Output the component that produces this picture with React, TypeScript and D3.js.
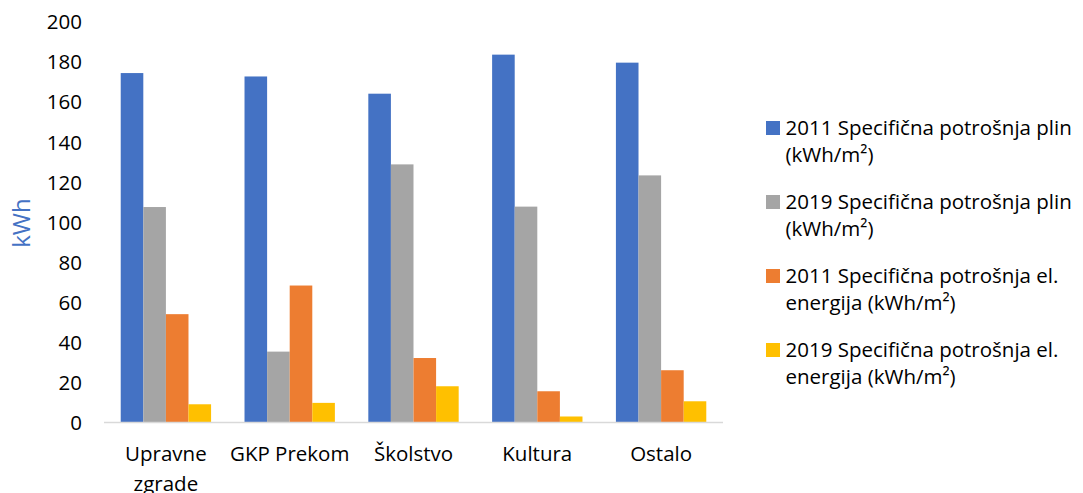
import React, { useEffect, useRef } from "react";
import * as d3 from "d3";

const categories = [["Upravne", "zgrade"], ["GKP Prekom"], ["Školstvo"], ["Kultura"], ["Ostalo"]];
const seriesNames = [
  ["2011 Specifična potrošnja plin", "(kWh/m²)"],
  ["2019 Specifična potrošnja plin", "(kWh/m²)"],
  ["2011 Specifična potrošnja el.", "energija (kWh/m²)"],
  ["2019 Specifična potrošnja el.", "energija (kWh/m²)"]
];
const colors = ["#4472C4", "#A5A5A5", "#ED7D31", "#FFC000"];
const plin2011 = [174.5, 172.8, 164.2, 183.7, 179.7];
const plin2019 = [107.6, 35.4, 128.9, 107.8, 123.4];
const el2011 = [54.1, 68.4, 32.2, 15.6, 26.1];
const el2019 = [9.1, 9.8, 18.1, 3.0, 10.6];
const yTicks = [0, 20, 40, 60, 80, 100, 120, 140, 160, 180, 200];

const FONT = "'Open Sans', sans-serif";
const FS = 20.5;

export default function App() {
  const ref = useRef<SVGSVGElement>(null);

  useEffect(() => {
    const svg = d3.select(ref.current);
    svg.selectAll("*").remove();
    const values = [plin2011, plin2019, el2011, el2019];

    const x0 = d3.scaleBand<number>().domain(d3.range(categories.length)).range([104, 723]);
    const x1 = d3
      .scaleBand<number>()
      .domain(d3.range(values.length))
      .range([0, x0.bandwidth()])
      .paddingInner(0)
      .paddingOuter(0.74);
    const y = d3.scaleLinear().domain([0, 200]).range([422.5, 22]);

    // tick labels
    svg
      .append("g")
      .selectAll("text")
      .data(yTicks)
      .join("text")
      .attr("x", 82)
      .attr("y", d => y(d))
      .attr("dy", "0.36em")
      .attr("text-anchor", "end")
      .attr("font-family", FONT)
      .attr("font-size", FS)
      .attr("fill", "#000")
      .text(d => d);

    svg
      .append("text")
      .attr("transform", "translate(30,223) rotate(-90)")
      .attr("text-anchor", "middle")
      .attr("font-family", FONT)
      .attr("font-size", 24)
      .attr("fill", "#4472C4")
      .text("kWh");

    // bars
    const groups = svg
      .append("g")
      .selectAll("g")
      .data(categories.map((c, i) => i))
      .join("g")
      .attr("transform", i => `translate(${x0(i)},0)`);

    groups
      .selectAll("rect")
      .data(i => values.map((s, j) => ({ j, v: s[i] })))
      .join("rect")
      .attr("x", d => x1(d.j)!)
      .attr("width", x1.bandwidth())
      .attr("y", d => y(d.v))
      .attr("height", d => y(0) - y(d.v))
      .attr("fill", d => colors[d.j]);

    // baseline
    svg
      .append("line")
      .attr("x1", 104)
      .attr("x2", 723)
      .attr("y1", y(0))
      .attr("y2", y(0))
      .attr("stroke", "#D9D9D9")
      .attr("stroke-width", 1.5);

    // category labels
    const catText = svg
      .append("g")
      .selectAll("text")
      .data(categories)
      .join("text")
      .attr("x", (d, i) => x0(i)! + x0.bandwidth() / 2)
      .attr("y", 461)
      .attr("text-anchor", "middle")
      .attr("font-family", FONT)
      .attr("font-size", FS)
      .attr("fill", "#000");
    catText
      .selectAll("tspan")
      .data(d => d)
      .join("tspan")
      .attr("x", function () {
        return (this.parentNode as SVGTextElement).getAttribute("x");
      })
      .attr("dy", (d, k) => (k === 0 ? 0 : 30))
      .text(d => d);

    // legend
    const leg = svg
      .append("g")
      .selectAll("g")
      .data(seriesNames)
      .join("g")
      .attr("transform", (d, i) => `translate(766,${128 + i * 74})`);
    leg
      .append("rect")
      .attr("x", 0)
      .attr("y", -7)
      .attr("width", 14)
      .attr("height", 14)
      .attr("fill", (d, i) => colors[i]);
    leg
      .append("text")
      .attr("font-family", FONT)
      .attr("font-size", FS)
      .attr("fill", "#000")
      .selectAll("tspan")
      .data(d => d)
      .join("tspan")
      .attr("x", 19.5)
      .attr("y", (d, k) => k * 27)
      .attr("dy", "0.36em")
      .text(d => d);
  }, []);

  return (
    <svg
      ref={ref}
      width={1083}
      height={493}
      style={{ position: "absolute", left: 0, top: 0, background: "#fff" }}
    />
  );
}
